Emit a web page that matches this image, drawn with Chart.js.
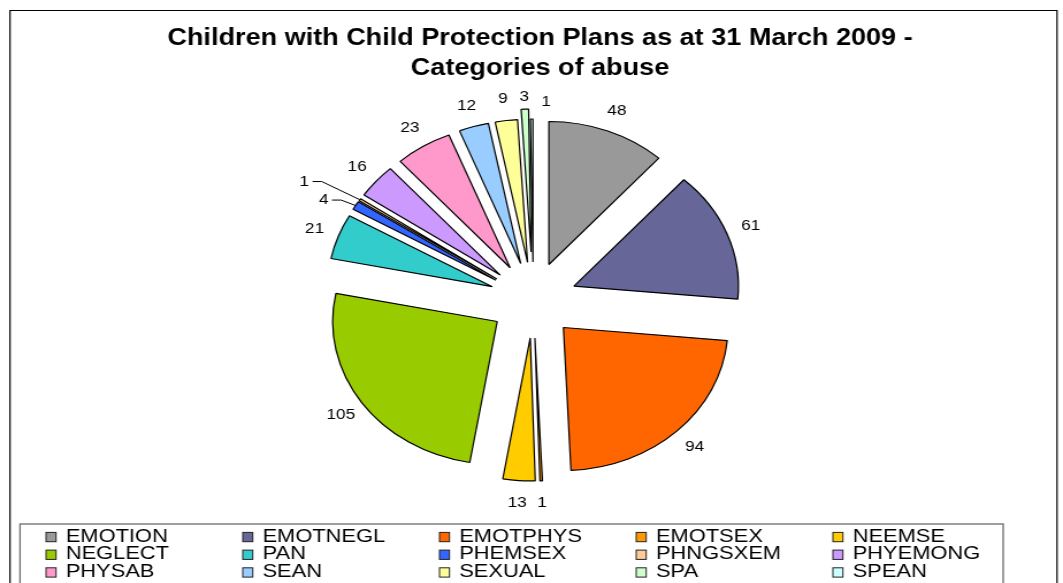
<!DOCTYPE html>
<html>
<head>
<meta charset="utf-8">
<title>Child Protection Plans - categories of abuse</title>
<script src="https://cdn.jsdelivr.net/npm/chart.js@4/dist/chart.umd.min.js"></script>
<style>
  html, body { margin: 0; padding: 0; background: #fff; }
</style>
</head>
<body>
<!-- canvas is drawn narrow and stretched sideways, like the old worksheet export -->
<canvas id="chart" width="924" height="583" style="display:block;width:1063px;height:583px"></canvas>
<script>
const categories = ["EMOTION", "EMOTNEGL", "EMOTPHYS", "EMOTSEX", "NEEMSE",
                    "NEGLECT", "PAN", "PHEMSEX", "PHNGSXEM", "PHYEMONG",
                    "PHYSAB", "SEAN", "SEXUAL", "SPA", "SPEAN"];
const counts = [48, 61, 94, 1, 13, 105, 21, 4, 1, 16, 23, 12, 9, 3, 1];
const sliceColors = ["#999999", "#666699", "#FF6600", "#FF9900", "#FFCC00",
                     "#99CC00", "#33CCCC", "#3366FF", "#FFCC99", "#CC99FF",
                     "#FF99CC", "#99CCFF", "#FFFF99", "#CCFFCC", "#CCFFFF"];
const titleLines = ["Children with Child Protection Plans as at 31 March 2009 -",
                    "Categories of abuse"];

// how far each slice is pulled out from the centre
const EXPLODE = 38;
const extraExplode = { SPA: 10 };
// value labels sit on this radius from the centre
const LABEL_R = 203;
// small slices whose labels get moved out of the way (some with a leader line)
const labelShift = {
  PHEMSEX: { dx: -9, dy: 6, leader: true },
  PHNGSXEM: { dx: -30, dy: -6, leader: true },
  SPEAN: { dx: 12.6, dy: 4.7 }
};

const explodedPie = {
  id: "explodedPie",
  beforeDatasetDraw(chart, args) {
    const ctx = chart.ctx;
    args.meta.data.forEach((arc, i) => {
      const mid = (arc.startAngle + arc.endAngle) / 2;
      const d = EXPLODE + (extraExplode[categories[i]] || 0);
      ctx.save();
      ctx.translate(Math.cos(mid) * d, Math.sin(mid) * d);
      arc.draw(ctx);
      ctx.restore();
    });
    return false;
  },
  afterDatasetsDraw(chart) {
    const ctx = chart.ctx;
    const meta = chart.getDatasetMeta(0);
    ctx.save();
    ctx.font = "15px 'Liberation Sans', Arial, sans-serif";
    ctx.fillStyle = "#000";
    ctx.strokeStyle = "#000";
    ctx.lineWidth = 1;
    ctx.textAlign = "center";
    ctx.textBaseline = "middle";
    meta.data.forEach((arc, i) => {
      const mid = (arc.startAngle + arc.endAngle) / 2;
      const cos = Math.cos(mid), sin = Math.sin(mid);
      const shift = labelShift[categories[i]] || { dx: 0, dy: 0 };
      const x = arc.x + cos * LABEL_R + shift.dx;
      const y = arc.y + sin * LABEL_R + shift.dy;
      const text = String(counts[i]);
      ctx.fillText(text, x, y);
      if (shift.leader) {
        const d = EXPLODE + arc.outerRadius;
        const edge = x + ctx.measureText(text).width / 2 + 3;
        ctx.beginPath();
        ctx.moveTo(edge, y);
        ctx.lineTo(edge + 8, y);
        ctx.lineTo(arc.x + cos * d, arc.y + sin * d);
        ctx.stroke();
      }
    });
    ctx.restore();
  },
  afterDraw(chart) {
    const ctx = chart.ctx;
    ctx.save();
    // outer frame
    ctx.strokeStyle = "#000";
    ctx.lineWidth = 1.2;
    ctx.beginPath();
    ctx.moveTo(8.7, 600);
    ctx.lineTo(8.7, 10.5);
    ctx.lineTo(918.8, 10.5);
    ctx.lineTo(918.8, 600);
    ctx.stroke();

    // title
    ctx.fillStyle = "#000";
    ctx.font = "bold 23.5px 'Liberation Sans', Arial, sans-serif";
    ctx.textAlign = "center";
    ctx.textBaseline = "middle";
    titleLines.forEach((line, i) => ctx.fillText(line, 469.4, 38.5 + i * 30.5));

    // legend box, 5 columns x 3 rows
    ctx.strokeStyle = "#6b6b6b";
    ctx.lineWidth = 1.3;
    ctx.strokeRect(17.4, 524, 854.6, 80);
    ctx.font = "19px 'Liberation Sans', Arial, sans-serif";
    ctx.textAlign = "left";
    ctx.textBaseline = "alphabetic";
    categories.forEach((name, i) => {
      const col = i % 5, row = Math.floor(i / 5);
      const x = 40 + col * 171;
      const base = 541.7 + row * 17.7;
      ctx.fillStyle = sliceColors[i];
      ctx.fillRect(x, base - 9.3, 8.7, 9.3);
      ctx.strokeStyle = "#222";
      ctx.lineWidth = 1;
      ctx.strokeRect(x, base - 9.3, 8.7, 9.3);
      ctx.fillStyle = "#000";
      ctx.fillText(name, x + 17.2, base);
    });
    ctx.restore();
  }
};

new Chart(document.getElementById("chart"), {
  type: "pie",
  data: {
    labels: categories,
    datasets: [{
      data: counts,
      backgroundColor: sliceColors,
      borderColor: "#000",
      borderWidth: 1.2
    }]
  },
  options: {
    responsive: false,
    animation: false,
    radius: 143,
    layout: { padding: { left: 3, right: 0, top: 84, bottom: 67 } },
    plugins: {
      legend: { display: false },
      title: { display: false },
      tooltip: { enabled: false }
    }
  },
  plugins: [explodedPie]
});
</script>
</body>
</html>
